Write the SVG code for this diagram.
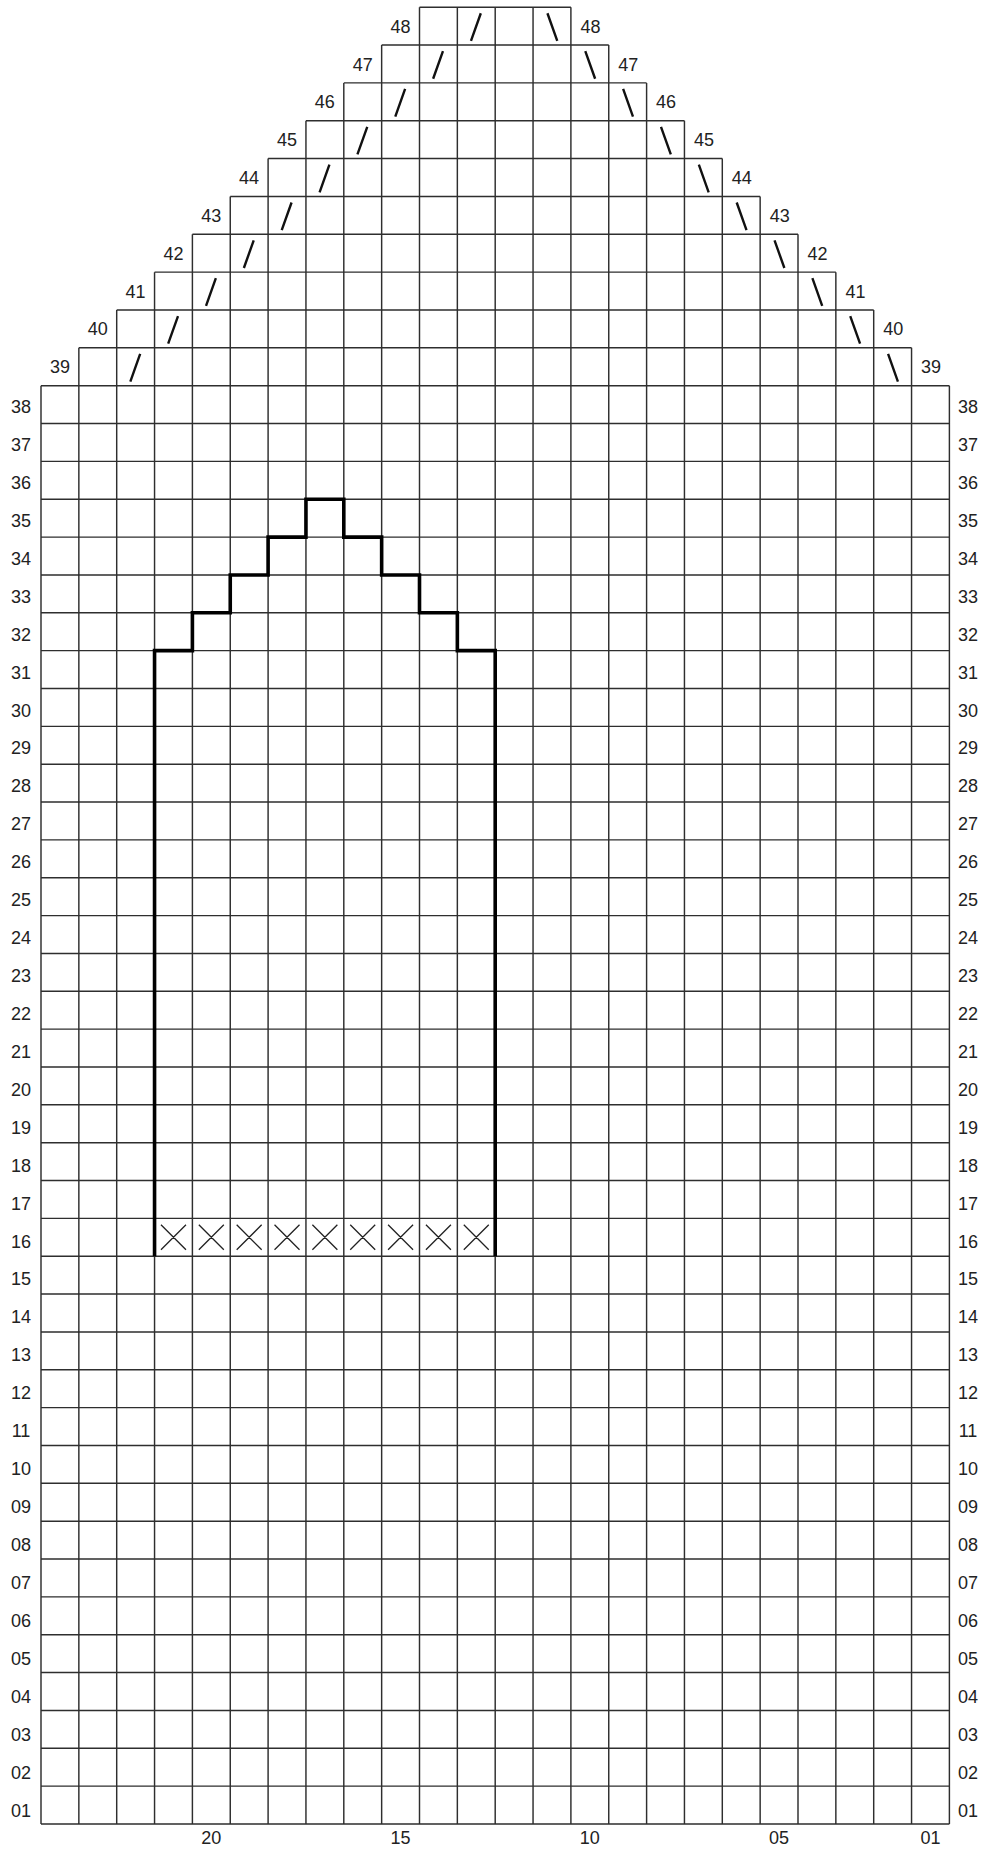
<svg xmlns="http://www.w3.org/2000/svg" width="983" height="1849" viewBox="0 0 983 1849">
<style>
.g{fill:none;stroke:#2e2e2e;stroke-width:1.45;vector-effect:non-scaling-stroke}
.o{fill:none;stroke:#000;stroke-width:3.6;stroke-linejoin:miter;vector-effect:non-scaling-stroke}
.x{fill:none;stroke:#222;stroke-width:1.3;vector-effect:non-scaling-stroke}
.s{fill:none;stroke:#111;stroke-width:2.4;stroke-linecap:butt;vector-effect:non-scaling-stroke}
text{font-family:"Liberation Sans",Arial,sans-serif;font-size:18px;fill:#222;text-anchor:middle}
</style>
<rect width="983" height="1849" fill="#fff"/>
<g id="chart" transform="matrix(37.85 0 0 37.85 41 7.2)">
<g id="grid">
<path class="g" d="M10 0H14M9 1H15M8 2H16M7 3H17M6 4H18M5 5H19M4 6H20M3 7H21M2 8H22M1 9H23
M0 10H24M0 11H24M0 12H24M0 13H24M0 14H24M0 15H24M0 16H24M0 17H24M0 18H24M0 19H24
M0 20H24M0 21H24M0 22H24M0 23H24M0 24H24M0 25H24M0 26H24M0 27H24M0 28H24M0 29H24
M0 30H24M0 31H24M0 32H24M0 33H24M0 34H24M0 35H24M0 36H24M0 37H24M0 38H24M0 39H24
M0 40H24M0 41H24M0 42H24M0 43H24M0 44H24M0 45H24M0 46H24M0 47H24M0 48H24
M0 10V48M1 9V48M2 8V48M3 7V48M4 6V48M5 5V48M6 4V48M7 3V48M8 2V48M9 1V48
M10 0V48M11 0V48M12 0V48M13 0V48M14 0V48
M15 1V48M16 2V48M17 3V48M18 4V48M19 5V48M20 6V48M21 7V48M22 8V48M23 9V48M24 10V48"/>
</g>
<g id="decreases">
<path class="s" d="M2.62 9.16L2.36 9.89M3.62 8.16L3.36 8.89M4.62 7.16L4.36 7.89M5.62 6.16L5.36 6.89M6.62 5.16L6.36 5.89M7.62 4.16L7.36 4.89M8.62 3.16L8.36 3.89M9.62 2.16L9.36 2.89M10.62 1.16L10.36 1.89M11.62 0.16L11.36 0.89"/>
<path class="s" d="M22.38 9.16L22.64 9.89M21.38 8.16L21.64 8.89M20.38 7.16L20.64 7.89M19.38 6.16L19.64 6.89M18.38 5.16L18.64 5.89M17.38 4.16L17.64 4.89M16.38 3.16L16.64 3.89M15.38 2.16L15.64 2.89M14.38 1.16L14.64 1.89M13.38 0.16L13.64 0.89"/>
</g>
<g id="crosses">
<path class="x" d="M3.17 32.17L3.83 32.83M3.83 32.17L3.17 32.83M4.17 32.17L4.83 32.83M4.83 32.17L4.17 32.83M5.17 32.17L5.83 32.83M5.83 32.17L5.17 32.83M6.17 32.17L6.83 32.83M6.83 32.17L6.17 32.83M7.17 32.17L7.83 32.83M7.83 32.17L7.17 32.83M8.17 32.17L8.83 32.83M8.83 32.17L8.17 32.83M9.17 32.17L9.83 32.83M9.83 32.17L9.17 32.83M10.17 32.17L10.83 32.83M10.83 32.17L10.17 32.83M11.17 32.17L11.83 32.83M11.83 32.17L11.17 32.83"/>
</g>
<g id="outline">
<path class="o" d="M3 33V17H4V16H5V15H6V14H7V13H8V14H9V15H10V16H11V17H12V33"/>
</g>
</g>
<g id="labels-left">
<text x="21" y="1816.5">01</text><text x="21" y="1778.6">02</text><text x="21" y="1740.6">03</text><text x="21" y="1702.7">04</text><text x="21" y="1664.8">05</text><text x="21" y="1626.8">06</text><text x="21" y="1588.9">07</text><text x="21" y="1551">08</text><text x="21" y="1513">09</text><text x="21" y="1475.1">10</text>
<text x="21" y="1437.2">11</text><text x="21" y="1399.2">12</text><text x="21" y="1361.3">13</text><text x="21" y="1323.4">14</text><text x="21" y="1285.4">15</text><text x="21" y="1247.5">16</text><text x="21" y="1209.6">17</text><text x="21" y="1171.6">18</text><text x="21" y="1133.7">19</text><text x="21" y="1095.8">20</text>
<text x="21" y="1057.9">21</text><text x="21" y="1019.9">22</text><text x="21" y="982">23</text><text x="21" y="944.1">24</text><text x="21" y="906.1">25</text><text x="21" y="868.2">26</text><text x="21" y="830.3">27</text><text x="21" y="792.3">28</text><text x="21" y="754.4">29</text><text x="21" y="716.5">30</text>
<text x="21" y="678.6">31</text><text x="21" y="640.6">32</text><text x="21" y="602.7">33</text><text x="21" y="564.8">34</text><text x="21" y="526.8">35</text><text x="21" y="488.9">36</text><text x="21" y="451">37</text><text x="21" y="413.1">38</text>
<text x="59.9" y="373.3">39</text><text x="97.7" y="335.4">40</text><text x="135.6" y="297.6">41</text><text x="173.4" y="259.7">42</text><text x="211.3" y="221.9">43</text><text x="249.1" y="184">44</text><text x="287" y="146.2">45</text><text x="324.8" y="108.3">46</text><text x="362.7" y="70.5">47</text><text x="400.5" y="32.6">48</text>
</g>
<g id="labels-right">
<text x="968" y="1816.5">01</text><text x="968" y="1778.6">02</text><text x="968" y="1740.6">03</text><text x="968" y="1702.7">04</text><text x="968" y="1664.8">05</text><text x="968" y="1626.8">06</text><text x="968" y="1588.9">07</text><text x="968" y="1551">08</text><text x="968" y="1513">09</text><text x="968" y="1475.1">10</text>
<text x="968" y="1437.2">11</text><text x="968" y="1399.2">12</text><text x="968" y="1361.3">13</text><text x="968" y="1323.4">14</text><text x="968" y="1285.4">15</text><text x="968" y="1247.5">16</text><text x="968" y="1209.6">17</text><text x="968" y="1171.6">18</text><text x="968" y="1133.7">19</text><text x="968" y="1095.8">20</text>
<text x="968" y="1057.9">21</text><text x="968" y="1019.9">22</text><text x="968" y="982">23</text><text x="968" y="944.1">24</text><text x="968" y="906.1">25</text><text x="968" y="868.2">26</text><text x="968" y="830.3">27</text><text x="968" y="792.3">28</text><text x="968" y="754.4">29</text><text x="968" y="716.5">30</text>
<text x="968" y="678.6">31</text><text x="968" y="640.6">32</text><text x="968" y="602.7">33</text><text x="968" y="564.8">34</text><text x="968" y="526.8">35</text><text x="968" y="488.9">36</text><text x="968" y="451">37</text><text x="968" y="413.1">38</text>
<text x="931" y="373.3">39</text><text x="893.2" y="335.4">40</text><text x="855.4" y="297.6">41</text><text x="817.5" y="259.7">42</text><text x="779.7" y="221.9">43</text><text x="741.8" y="184">44</text><text x="704" y="146.2">45</text><text x="666.1" y="108.3">46</text><text x="628.3" y="70.5">47</text><text x="590.4" y="32.6">48</text>
</g>
<g id="labels-bottom">
<text x="211.3" y="1843.5">20</text><text x="400.6" y="1843.5">15</text><text x="589.8" y="1843.5">10</text><text x="779.1" y="1843.5">05</text><text x="930.5" y="1843.5">01</text>
</g>
</svg>
